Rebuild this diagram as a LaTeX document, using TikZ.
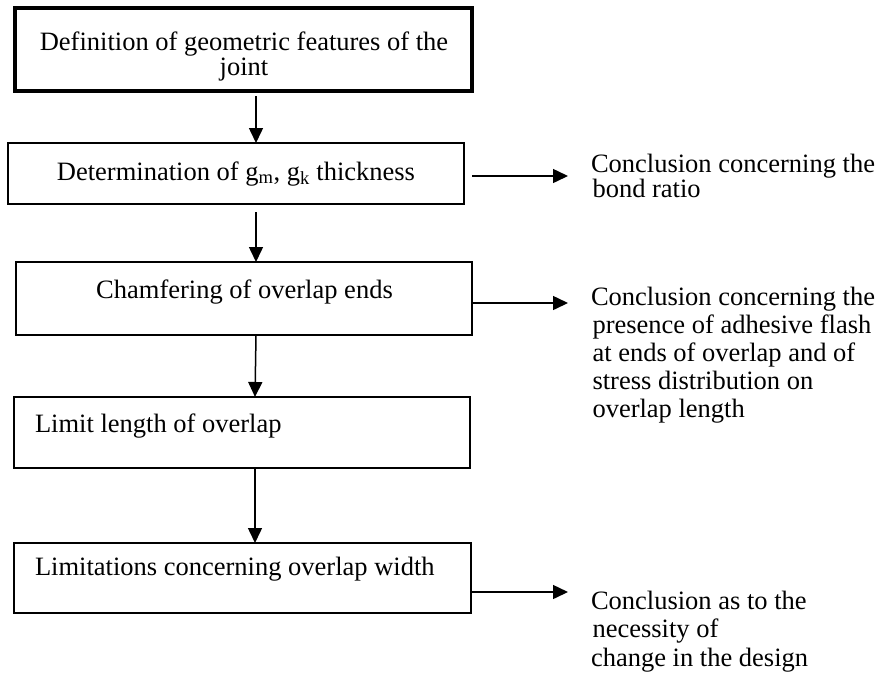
\documentclass[tikz,border=0pt]{standalone}
\usepackage{fontspec}
\setmainfont{Liberation Serif}
\usetikzlibrary{arrows.meta}
\begin{document}
\begin{tikzpicture}[x=1pt,y=-1pt,
  box/.style={draw, line width=1.5pt, inner sep=0pt, outer sep=0pt},
  thickbox/.style={box, line width=3.5pt},
  txt/.style={inner sep=0pt, outer sep=0pt, font=\fontsize{26.5}{25}\selectfont},
  arr/.style={line width=1.5pt, -{Triangle[length=15pt,width=14pt]}}]
\path[use as bounding box] (0,0) rectangle (882,678);
% boxes
\node[thickbox, minimum width=457pt, minimum height=83pt] (b1) at (243.5,49.5) {};
\node[box, minimum width=456pt, minimum height=61pt] (b2) at (236,173.5) {};
\node[box, minimum width=456pt, minimum height=73pt] (b3) at (244,298.5) {};
\node[box, minimum width=456pt, minimum height=71pt] (b4) at (242,432.5) {};
\node[box, minimum width=457pt, minimum height=70pt] (b5) at (242.5,578) {};
% box texts (multi-line nodes: base = last line)
\node[txt, anchor=base, align=center, font=\fontsize{26.5}{24.3}\selectfont] (t1) at (244,75) {Definition of geometric features of the\\joint};
\node[txt, anchor=base] (t2) at (236,180) {Determination of g\textsubscript{m}, g\textsubscript{k} thickness};
\node[txt, anchor=base] (t3) at (244.5,298) {Chamfering of overlap ends};
\node[txt, anchor=base west] (t4) at (35,432) {Limit length of overlap};
\node[txt, anchor=base west] (t5) at (35,575) {Limitations concerning overlap width};
% conclusions
\node[txt, anchor=base west, align=left, font=\fontsize{26.5}{25.5}\selectfont] (c1) at (591,197.5) {Conclusion concerning the\\\hspace{1.5pt}bond ratio};
\node[txt, anchor=base west, align=left, font=\fontsize{26.5}{28}\selectfont] (c2) at (591,417) {Conclusion concerning the\\\hspace{1.5pt}presence of adhesive flash\\\hspace{1.5pt}at ends of overlap and of\\\hspace{1.5pt}stress distribution on\\\hspace{1.5pt}overlap length};
\node[txt, anchor=base west, align=left, font=\fontsize{26.5}{28.5}\selectfont] (c3) at (591,666) {Conclusion as to the\\\hspace{1.5pt}necessity of\\change in the design};
% vertical connectors
\draw[arr] ([xshift=12.5pt,yshift=-5pt]b1.south) -- ([xshift=20pt]b2.north);
\draw[arr] ([xshift=20pt,yshift=-8pt]b2.south) -- ([xshift=12pt]b3.north);
\draw[arr] ([xshift=12pt]b3.south) -- ([xshift=13pt]b4.north);
\draw[arr] ([xshift=13pt]b4.south) -- ([xshift=12.5pt]b5.north);
% horizontal connectors
\draw[arr] ([xshift=8pt,yshift=-2.5pt]b2.east) -- ++(96,0);
\draw[arr] ([yshift=-4.5pt]b3.east) -- ++(96,0);
\draw[arr] ([yshift=-14pt]b5.east) -- ++(97,0);
\end{tikzpicture}
\end{document}
